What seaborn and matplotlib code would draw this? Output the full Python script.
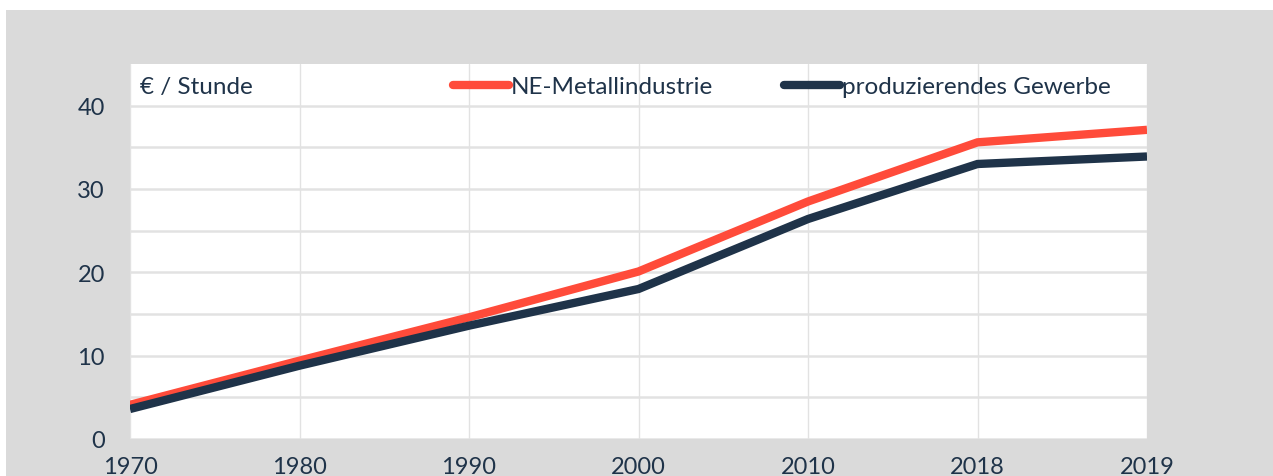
import pandas as pd
import matplotlib.pyplot as plt
import seaborn as sns
from matplotlib.patches import Rectangle
from matplotlib.lines import Line2D

# Data
years = ['1970', '1980', '1990', '2000', '2010', '2018', '2019']
ne_metall = [4.1, 9.4, 14.6, 20.1, 28.5, 35.6, 37.1]
produz = [3.6, 8.8, 13.6, 18.0, 26.4, 33.0, 33.9]
series_names = ['NE-Metallindustrie', 'produzierendes Gewerbe']

df = pd.DataFrame({
    'Jahr': years * 2,
    'Wert': ne_metall + produz,
    'Reihe': [series_names[0]] * len(years) + [series_names[1]] * len(years),
})

red = '#ff4b3a'
navy = '#1f3349'
txt = '#1f3349'
palette = {series_names[0]: red, series_names[1]: navy}

sns.set_style('white')
plt.rcParams['font.family'] = ['Lato', 'DejaVu Sans']

fig = plt.figure(figsize=(12.73, 4.77), dpi=100)
fig.patch.set_facecolor('white')
fig.patches.append(Rectangle((6 / 1273, 0), 1 - 6 / 1273, (477 - 11) / 477,
                             transform=fig.transFigure, facecolor='#dadada',
                             edgecolor='none', zorder=-10))
ax = fig.add_axes([130 / 1273, 37 / 477, 1017 / 1273, 375 / 477])
ax.set_facecolor('white')

sns.lineplot(data=df, x='Jahr', y='Wert', hue='Reihe', palette=palette,
             linewidth=6, sort=False, ax=ax, legend=False)
for ln in ax.lines:
    ln.set_solid_capstyle('butt')
    ln.set_solid_joinstyle('miter')

ax.set_xlim(0, len(years) - 1)
ax.set_ylim(0, 45)
ax.set_yticks([0, 10, 20, 30, 40])
ax.set_yticks([5, 15, 25, 35], minor=True)
ax.grid(True, axis='y', which='both', color='#e2e2e2', linewidth=1.8, zorder=0)
ax.grid(True, axis='x', which='major', color='#e2e2e2', linewidth=1.0, zorder=0)
ax.set_axisbelow(True)
for s in ax.spines.values():
    s.set_visible(False)
ax.tick_params(axis='both', which='both', length=0, labelsize=17, colors=txt)
ax.tick_params(axis='y', pad=18)
ax.tick_params(axis='x', pad=12)
ax.set_xlabel('')
ax.set_ylabel('')

ax.text(0.01, 0.94, '€ / Stunde', transform=ax.transAxes, fontsize=17.5,
        color=txt, va='center', ha='left')

handles = [Line2D([0], [0], color=red, lw=6, solid_capstyle='round'),
           Line2D([0], [0], color=navy, lw=6, solid_capstyle='round')]
leg = ax.legend(handles, series_names, loc='center left',
                bbox_to_anchor=(313 / 1017, 0.94), ncol=2, frameon=False,
                fontsize=17.5, handlelength=2.3, handletextpad=0.1,
                columnspacing=2.9, borderaxespad=0)
for t in leg.get_texts():
    t.set_color(txt)

fig.savefig('out.png', dpi=100)
